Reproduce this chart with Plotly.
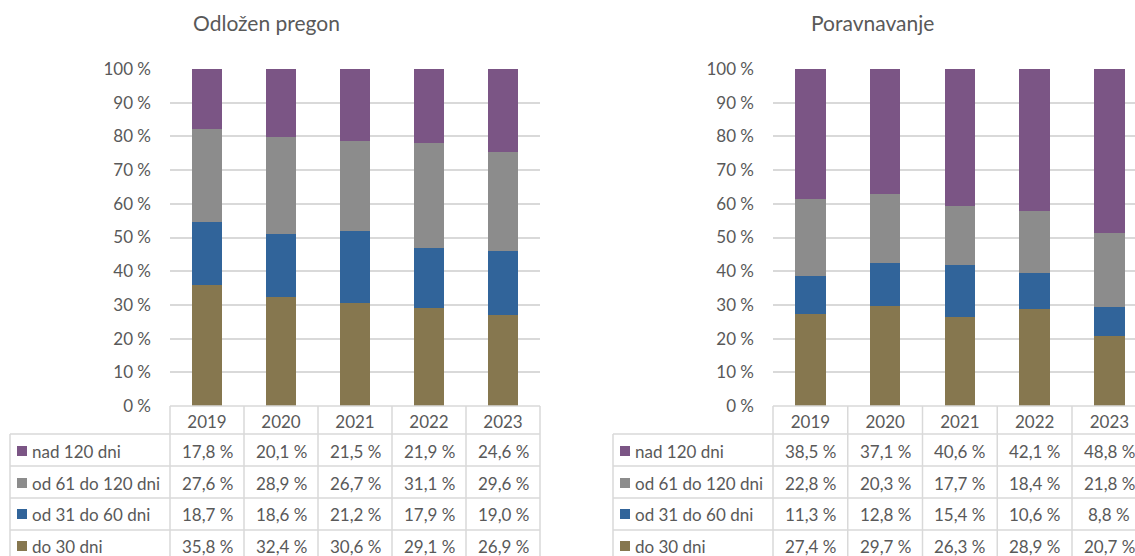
import plotly.graph_objects as go

years = ["2019", "2020", "2021", "2022", "2023"]
series = ["nad 120 dni", "od 61 do 120 dni", "od 31 do 60 dni", "do 30 dni"]
colors = {"nad 120 dni": "#7B5585", "od 61 do 120 dni": "#8C8C8C",
          "od 31 do 60 dni": "#31649A", "do 30 dni": "#86774F"}

# Odložen pregon
odl_nad120 = [17.8, 20.1, 21.5, 21.9, 24.6]
odl_61_120 = [27.6, 28.9, 26.7, 31.1, 29.6]
odl_31_60 = [18.7, 18.6, 21.2, 17.9, 19.0]
odl_do30 = [35.8, 32.4, 30.6, 29.1, 26.9]

# Poravnavanje
por_nad120 = [38.5, 37.1, 40.6, 42.1, 48.8]
por_61_120 = [22.8, 20.3, 17.7, 18.4, 21.8]
por_31_60 = [11.3, 12.8, 15.4, 10.6, 8.8]
por_do30 = [27.4, 29.7, 26.3, 28.9, 20.7]

titles = ["Odložen pregon", "Poravnavanje"]

W, H = 1135, 556
def px(x): return x / W
def py(y): return 1 - y / H

FONT = "Lato"
TXT = "#595959"
GRID = "#D9D9D9"
FS = 17

panels = [
    dict(data={"nad 120 dni": odl_nad120, "od 61 do 120 dni": odl_61_120,
               "od 31 do 60 dni": odl_31_60, "do 30 dni": odl_do30},
         xa="x", ya="y", x0=170, colw=74.0, lab0=10, title_x=266),
    dict(data={"nad 120 dni": por_nad120, "od 61 do 120 dni": por_61_120,
               "od 31 do 60 dni": por_31_60, "do 30 dni": por_do30},
         xa="x2", ya="y2", x0=773, colw=74.75, lab0=613, title_x=872),
]

fig = go.Figure()
shapes = []
annotations = []

top_px, bot_px = 69, 406
header_bot = 434
row_lines = [466, 498, 530]
row_centers = [451, 483, 514, 546]

for pi, p in enumerate(panels):
    for s in reversed(series):
        fig.add_trace(go.Bar(x=years, y=p["data"][s], name=s, marker_color=colors[s],
                             marker_line_width=0, xaxis=p["xa"], yaxis=p["ya"],
                             showlegend=False, hoverinfo="skip"))
    x0, cw, lab0 = p["x0"], p["colw"], p["lab0"]
    x_end = x0 + 5 * cw
    xr = "paper"
    line = dict(color=GRID, width=1.5)
    for i in range(6):
        xx = x0 + i * cw
        shapes.append(dict(type="line", xref=xr, yref="paper", x0=px(xx), x1=px(xx),
                           y0=py(bot_px), y1=py(570), line=line))
    shapes.append(dict(type="line", xref=xr, yref="paper", x0=px(x0), x1=px(x_end),
                       y0=py(bot_px), y1=py(bot_px), line=line))
    for yy in [header_bot] + row_lines:
        shapes.append(dict(type="line", xref=xr, yref="paper", x0=px(lab0), x1=px(x_end),
                           y0=py(yy), y1=py(yy), line=line))
    shapes.append(dict(type="line", xref=xr, yref="paper", x0=px(lab0), x1=px(lab0),
                       y0=py(header_bot), y1=py(570), line=line))
    xref_data = "x" if pi == 0 else "x2"
    for ri, s in enumerate(series):
        yc = row_centers[ri]
        shapes.append(dict(type="rect", xref=xr, yref="paper", x0=px(lab0 + 7), x1=px(lab0 + 17),
                           y0=py(yc + 5), y1=py(yc - 5), fillcolor=colors[s], line_width=0))
        annotations.append(dict(x=px(lab0 + 20), y=py(yc), xref="paper", yref="paper",
                                text=s, showarrow=False, xanchor="left", yanchor="middle",
                                font=dict(family=FONT, size=FS, color=TXT)))
        for yi in range(len(years)):
            val = p["data"][s][yi]
            annotations.append(dict(x=yi, y=py(yc), xref=xref_data, yref="paper",
                                    text=f"{val:.1f}".replace(".", ",") + " %",
                                    showarrow=False, xanchor="center", yanchor="middle",
                                    font=dict(family=FONT, size=FS, color=TXT)))
    annotations.append(dict(x=px(p["title_x"]), y=py(23), xref="paper", yref="paper",
                            text=titles[pi], showarrow=False, xanchor="center", yanchor="middle",
                            font=dict(family=FONT, size=21, color=TXT)))

ydom = [py(bot_px), py(top_px)]
common_y = dict(range=[0, 100], tickvals=list(range(0, 101, 10)),
                ticktext=[f"{v} %" for v in range(0, 101, 10)],
                showgrid=True, gridcolor=GRID, gridwidth=1.5, zeroline=False,
                showline=False, ticks="", ticklabelstandoff=18,
                tickfont=dict(family=FONT, size=FS, color=TXT), fixedrange=True)
common_x = dict(type="category", showgrid=False, zeroline=False, showline=False, ticks="",
                ticklabelstandoff=4, tickfont=dict(family=FONT, size=FS, color=TXT),
                fixedrange=True)

fig.update_layout(
    width=W, height=H, margin=dict(l=0, r=0, t=0, b=0, autoexpand=False),
    paper_bgcolor="white", plot_bgcolor="white",
    barmode="stack", bargap=0.59,
    xaxis=dict(domain=[px(170), px(170 + 5 * 74.0)], range=[-0.5, 4.5], anchor="y", **common_x),
    yaxis=dict(domain=ydom, anchor="x", **common_y),
    xaxis2=dict(domain=[px(773), 1.0], range=[-0.5, -0.5 + (W - 773) / 74.75], anchor="y2", **common_x),
    yaxis2=dict(domain=ydom, anchor="x2", **common_y),
    shapes=shapes, annotations=annotations,
)

fig.write_html("out.html", config={"displayModeBar": False},
               post_script="document.body.style.margin='0';document.body.style.overflow='hidden';")
